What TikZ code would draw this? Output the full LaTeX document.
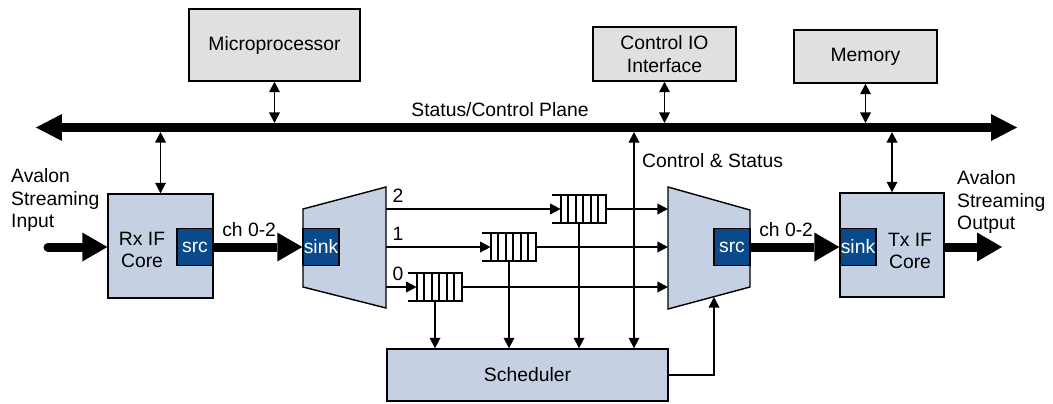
\documentclass[tikz,border=0pt]{standalone}
\usepackage{fontspec}
\setmainfont{Liberation Sans}
\usetikzlibrary{arrows.meta}
\definecolor{blk}{HTML}{C5D0E2}
\definecolor{dkb}{HTML}{0B4A8A}
\definecolor{gry}{HTML}{E0E0E0}
\begin{document}
\begin{tikzpicture}[x=0.02cm,y=-0.02cm,font=\fontsize{11}{13}\selectfont,
  box/.style={draw,line width=0.8pt,fill=blk,inner sep=0pt,align=center},
  top/.style={draw,line width=0.8pt,fill=gry,inner sep=0pt,align=center},
  port/.style={draw,line width=0.8pt,fill=dkb,text=white,minimum width=0.72cm,minimum height=0.74cm,inner sep=0pt},
  fifo/.style={minimum width=1.08cm,minimum height=0.56cm,inner sep=0pt},
  arr/.style={line width=1pt,-{Triangle[length=6pt,width=6pt]}},
  dbl/.style={line width=1pt,{Triangle[length=6pt,width=6pt]}-{Triangle[length=6pt,width=6pt]}},
  fat/.style={line width=0.18cm,-{Triangle[length=0.5cm,width=0.58cm,line width=0pt]}},
  bus/.style={line width=0.18cm,{Triangle[length=0.52cm,width=0.54cm,line width=0pt]}-{Triangle[length=0.52cm,width=0.54cm,line width=0pt]}}]
\useasboundingbox (0,0) rectangle (1053,403);
\node[top,minimum width=3.42cm,minimum height=1.44cm] (mp) at (274.5,45) {Microprocessor};
\node[top,minimum width=2.86cm,minimum height=1.08cm] (cio) at (664.5,54) {Control IO\\Interface};
\node[top,minimum width=2.86cm,minimum height=1.06cm] (mem) at (865.5,56.5) {Memory};
\coordinate (busL) at (36,127.5);
\coordinate (busR) at (1017,127.5);
\draw[bus] (busL) -- (busR);
\node at (500,110) {Status/Control Plane};
\coordinate (bt) at (0,123);
\coordinate (bb) at (0,132);
\node[box,minimum width=2.1cm,minimum height=2.08cm] (rx) at (160.5,246) {};
\node[box,minimum width=2.08cm,minimum height=2.08cm] (tx) at (892,245) {};
\node[align=center] at (142,250) {Rx IF\\Core};
\node[align=center] at (910,251) {Tx IF\\Core};
\node[port] (rxsrc) at (195,247) {src};
\node[port] (txsink) at (858,247) {sink};
\draw[fill=blk,line width=0.8pt] (303,209) -- (386,187) -- (386,308) -- (303,287) -- cycle;
\draw[fill=blk,line width=0.8pt] (668,187) -- (750,210) -- (750,287) -- (668,309) -- cycle;
\node[port] (dmsink) at (321,247) {sink};
\node[port] (mxsrc) at (732,247) {src};
\node[box,minimum width=5.62cm,minimum height=1.04cm] (sched) at (527.5,375) {Scheduler};
\foreach \n in {mp,cio,mem}{\draw[dbl] (\n) -- (\n |- bt);}
\foreach \n in {rx,tx}{\draw[dbl] (\n) -- (\n |- bb);}
\coordinate (cs) at (634,132);
\draw[dbl] (cs) -- (cs |- sched.north);
\node[anchor=west] at (636,161) {Control \& Status};
\coordinate (in) at (48,247);
\coordinate (out) at (1002,247);
\node[align=left,anchor=west] at (5,200) {Avalon\\Streaming\\Input};
\node[align=left,anchor=west] at (951,202) {Avalon\\Streaming\\Output};
\draw[fat,line cap=round] (in) -- (rx.west |- in);
\draw[fat] (tx.east |- out) -- (out);
\draw[fat] (rxsrc) -- node[pos=0.4,above]{ch 0-2} (dmsink);
\draw[fat] (mxsrc) -- node[pos=0.4,above]{ch 0-2} (txsink);
\coordinate (dmout) at (386,0);
\coordinate (mxin) at (668,0);
\foreach \c/\x/\y in {0/408/287,1/482/247,2/552/209}{
  \node[fifo] (f\c) at (\x+27,\y) {};
  \draw[line width=1.2pt] (f\c.north west) -- (f\c.north east) -- (f\c.south east) -- (f\c.south west);
  \foreach \k in {0,...,5}{\draw[line width=1.2pt] ([xshift=0.18cm+\k*0.15cm]f\c.north west) -- ([xshift=0.18cm+\k*0.15cm]f\c.south west);}
  \draw[arr] (f\c.west -| dmout) node[above right]{\c} -- ([xshift=0.18cm]f\c.west);
  \draw[arr] (f\c.east) -- (f\c.east -| mxin);
  \draw[arr] (f\c) -- (f\c |- sched.north);
}
\coordinate (mxb) at (714,297);
\draw[arr] (sched.east) -| (mxb);
\end{tikzpicture}
\end{document}
